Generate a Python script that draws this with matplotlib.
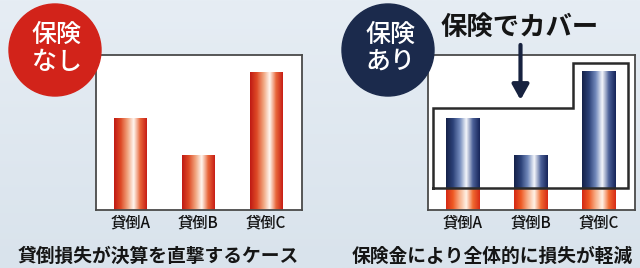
import numpy as np
import matplotlib.pyplot as plt
from matplotlib.colors import LinearSegmentedColormap
from matplotlib.patches import Circle

plt.rcParams['font.family'] = ['Noto Sans CJK JP', 'DejaVu Sans']

# data
categories = ['貸倒A', '貸倒B', '貸倒C']
losses = [5.9, 3.5, 8.9]      # loss per bad debt
retained = 1.4                # part left after insurance
ymax = 10

left_caption = '貸倒損失が決算を直撃するケース'
right_caption = '保険金により全体的に損失が軽減'

red_cmap = LinearSegmentedColormap.from_list(
    'red', ['#c01b14', '#de4a26', '#f0a07a', '#fff6ef', '#e8663a', '#c81f16'])
navy_cmap = LinearSegmentedColormap.from_list(
    'navy', ['#15224a', '#2c4178', '#7088ba', '#f4f6fb', '#4b6098', '#17265a'])
orange_cmap = LinearSegmentedColormap.from_list(
    'orange', ['#d42a14', '#ef5a24', '#f8b08a', '#fff2e6', '#f06a30', '#d82c16'])

W, H = 640, 268
fig = plt.figure(figsize=(W / 100, H / 100), dpi=100)

# background
bg = fig.add_axes([0, 0, 1, 1], zorder=0)
grad = np.linspace(0, 1, 100).reshape(-1, 1)
bg_cmap = LinearSegmentedColormap.from_list('bg', ['#e6edf4', '#d9e3ec'])
bg.imshow(grad, cmap=bg_cmap, aspect='auto', extent=(0, W, H, 0))
bg.set_xlim(0, W)
bg.set_ylim(H, 0)
bg.axis('off')

xgrad = np.linspace(0, 1, 64).reshape(1, -1)


def gradient_fill(ax, rects, cmap):
    for r in rects:
        x, y = r.get_x(), r.get_y()
        ax.imshow(xgrad, cmap=cmap, aspect='auto', zorder=2,
                  extent=(x, x + r.get_width(), y, y + r.get_height()))
        r.set_facecolor('none')


def setup_panel(ax):
    ax.set_facecolor('white')
    for s in ax.spines.values():
        s.set_color('#4a4a4a')
        s.set_linewidth(1.3)
    ax.set_xticks(range(len(categories)), categories)
    ax.tick_params(length=0, pad=3, labelsize=11, labelcolor='#111111')
    for t in ax.get_xticklabels():
        t.set_fontweight('medium')
    ax.set_yticks([])
    ax.set_xlim(-0.507, 2.53)
    ax.set_ylim(0, ymax)


x = np.arange(len(categories))
bw = 0.485

# left panel: no insurance
axl = fig.add_axes([96 / W, 58 / H, 206 / W, 155 / H], zorder=1)
bars = axl.bar(x, losses, width=bw, linewidth=0)
gradient_fill(axl, bars, red_cmap)
setup_panel(axl)

# right panel: with insurance
axr = fig.add_axes([428 / W, 58 / H, 207 / W, 155 / H], zorder=1)
covered = [v - retained for v in losses]
low = axr.bar(x, [retained] * len(x), width=bw, linewidth=0)
high = axr.bar(x, covered, bottom=retained, width=bw, linewidth=0)
gradient_fill(axr, low, orange_cmap)
gradient_fill(axr, high, navy_cmap)

# outline of the covered area
ab_top = max(losses[:2]) + 0.7
c_top = losses[2] + 0.6
xl, xs, xr = -0.43, 1.625, 2.42
axr.plot([xl, xl, xs, xs, xr, xr, xl],
         [retained, ab_top, ab_top, c_top, c_top, retained, retained],
         color='#2a2a2a', lw=1.8, zorder=3, solid_joinstyle='miter')
axr.annotate('', xy=(0.85, 7.1), xytext=(0.85, 10.65),
             arrowprops=dict(arrowstyle='-|>,head_width=0.5,head_length=0.9',
                             color='#17223f', lw=3, shrinkA=0, shrinkB=0),
             annotation_clip=False, zorder=4)
setup_panel(axr)

# overlay: badges and titles
ov = fig.add_axes([0, 0, 1, 1], zorder=3)
ov.set_xlim(0, W)
ov.set_ylim(H, 0)
ov.axis('off')
ov.add_patch(Circle((55, 50), 46, color='#d2231a'))
ov.add_patch(Circle((388, 50), 46, color='#1b2a4c'))
for cx, lines in [(57, ('保険', 'なし')), (390, ('保険', 'あり'))]:
    ov.text(cx, 35, lines[0], color='white', fontsize=18, fontweight='medium',
            ha='center', va='center')
    ov.text(cx, 62, lines[1], color='white', fontsize=18, fontweight='medium',
            ha='center', va='center')

ov.text(520, 27, '保険でカバー', fontsize=19, fontweight='bold', color='#151515',
        ha='center', va='center')
ov.text(158, 256, left_caption, fontsize=13.5, fontweight='bold', color='#151515',
        ha='center', va='center')
ov.text(492, 256, right_caption, fontsize=13.5, fontweight='bold', color='#151515',
        ha='center', va='center')

fig.savefig('out.png', dpi=100)
